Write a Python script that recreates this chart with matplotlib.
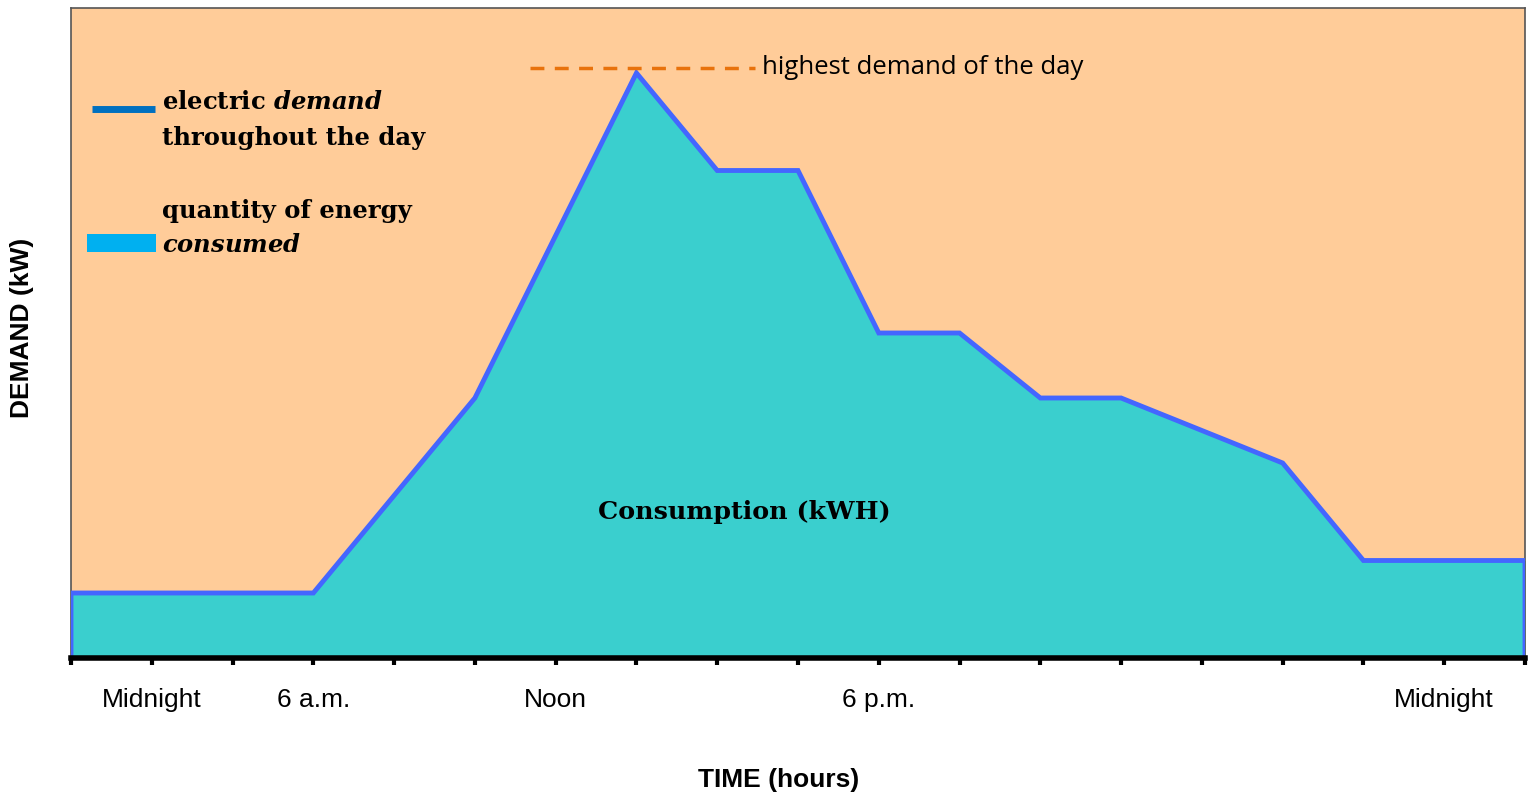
# -*- coding: utf-8 -*-
import numpy as np
import matplotlib
matplotlib.use("Agg")
import matplotlib.pyplot as plt

plt.rcParams["mathtext.fontset"] = "custom"
plt.rcParams["mathtext.it"] = "DejaVu Serif:italic:bold"
plt.rcParams["mathtext.rm"] = "DejaVu Serif:bold"

# Datos de la curva de demanda (unidades relativas)
horas = [0, 0, 3, 5, 7, 8, 9, 10, 11, 12, 13, 15, 16, 18, 18]
demanda = [0, 1, 1, 4, 9, 7.5, 7.5, 5, 5, 4, 4, 3, 1.5, 1.5, 0]

# Etiquetas del eje x
pos_etiquetas = [1, 3, 6, 10, 17]
etiquetas = ["Midnight", "6 a.m.", "Noon", "6 p.m.", "Midnight"]

# Máximo del día
pico_x = [5.68, 8.47]
pico_y = 9.08

# Colores
fondo = "#FFCC99"
relleno = "#3ACFCE"
linea = "#4466FF"

fig = plt.figure(figsize=(15.3, 7.95), dpi=100)
ax = fig.add_axes([71 / 1530, 1 - 658 / 795, (1525 - 71) / 1530, (658 - 8) / 795])
ax.set_facecolor(fondo)

ax.fill_between(horas, demanda, 0, color=relleno, lw=0, zorder=2)
ax.plot(horas, demanda, color=linea, lw=3.5, solid_joinstyle="miter", zorder=3)
ax.plot(pico_x, [pico_y, pico_y], color="#E8720C", lw=2.5, ls=(0, (4, 3)), zorder=3)

ax.set_xlim(0, 18)
ax.set_ylim(0, 10)

# Ejes
for lado in ["left", "top", "right"]:
    ax.spines[lado].set_color("#555555")
    ax.spines[lado].set_linewidth(1.2)
ax.spines["bottom"].set_linewidth(4)
ax.spines["bottom"].set_color("black")
ax.spines["bottom"].set_zorder(5)
ax.set_yticks([])
ax.set_xticks(np.arange(0, 19))
ax.tick_params(axis="x", which="major", direction="out", length=5, width=3, labelbottom=False)

# Etiquetas de hora bajo el eje
for xp, txt in zip(pos_etiquetas, etiquetas):
    ax.text(xp, -0.65, txt, fontsize=19, family="Liberation Sans", ha="center", va="center")

fig.text(779 / 1530, 1 - 780 / 795, "TIME (hours)", fontsize=19, fontweight="bold",
         family="Liberation Sans", ha="center", va="center")
fig.text(22 / 1530, 1 - 328 / 795, "DEMAND (kW)", fontsize=19, fontweight="bold",
         family="Liberation Sans", ha="center", va="center", rotation=90)

# Textos dentro del gráfico
ax.text(8.55, pico_y, "highest demand of the day", fontsize=18.5, family="Open Sans",
        va="center", ha="left", zorder=4)
ax.text(8.33, 2.25, "Consumption (kWH)", fontsize=18.3, fontweight="bold", family="DejaVu Serif",
        ha="center", va="center", zorder=4)

# Leyenda manual
ax.plot([0.26, 1.04], [8.45, 8.45], color="#0070C0", lw=5, solid_capstyle="butt", zorder=4)
ax.add_patch(plt.Rectangle((0.2, 6.24), 0.85, 0.29, color="#00B0F0", lw=0, zorder=4))
serif = dict(fontsize=17.5, fontweight="bold", family="DejaVu Serif", va="center", ha="left", zorder=4)
ax.text(1.13, 8.55, "electric $\\it{demand}$", **serif)
ax.text(1.13, 8.0, "throughout the day", **serif)
ax.text(1.13, 6.88, "quantity of energy", **serif)
ax.text(1.13, 6.36, "$\\it{consumed}$", **serif)

fig.savefig("out.png", dpi=100, facecolor="white")
